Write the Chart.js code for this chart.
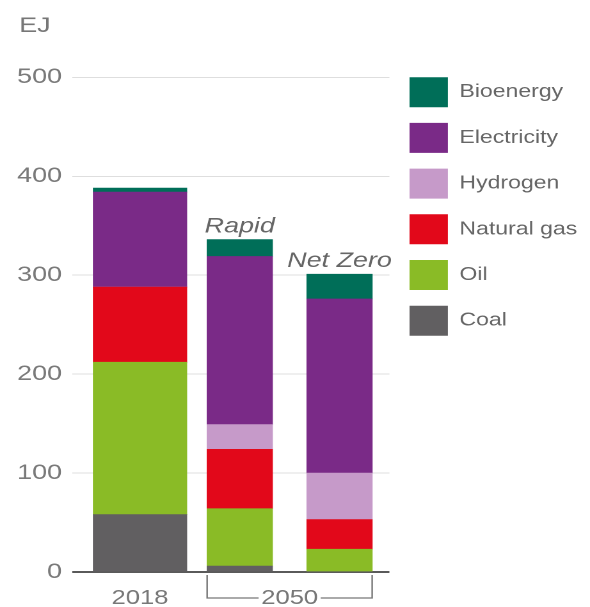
<!DOCTYPE html>
<html>
<head>
<meta charset="utf-8">
<script src="https://cdn.jsdelivr.net/npm/chart.js@4.4.0/dist/chart.umd.min.js"></script>
<style>
  html, body { margin: 0; padding: 0; background: #fff; }
</style>
</head>
<body>
<!-- the reference is drawn wide: canvas is laid out at 461px and stretched to 590px -->
<canvas id="energyChart" width="461" height="607" style="display:block;width:590px;height:607px"></canvas>
<script>
const categories = ["2018", "Rapid", "Net Zero"];
const scenarioLabels = ["", "Rapid", "Net Zero"];
const periodLabels = ["2018", "2050"];
const unitLabel = "EJ";
const yTicks = [0, 100, 200, 300, 400, 500];

// bottom to top of each stack
const sources = ["Coal", "Oil", "Natural gas", "Hydrogen", "Electricity", "Bioenergy"];
const coal = [58, 6, 0];
const oil = [154, 58, 23];
const naturalGas = [76, 60, 30];
const hydrogen = [0, 25, 47];
const electricity = [96, 170, 176];
const bioenergy = [4, 17, 25];

const sourceColors = ["#615f61", "#8abb26", "#e2081a", "#c69ac9", "#7a2a87", "#006e58"];
const values = [coal, oil, naturalGas, hydrogen, electricity, bioenergy];

const FONT = "'Liberation Sans', Arial, sans-serif";
Chart.defaults.font.family = FONT;

// 2018 bar is wider than the two 2050 bars, so it gets its own set of datasets
function makeSets(cols, thickness) {
  return sources.map((name, s) => ({
    label: name,
    data: categories.map((c, i) => cols.includes(i) ? values[s][i] : null),
    backgroundColor: sourceColors[s],
    borderWidth: 0,
    barThickness: thickness
  }));
}

const annotations = {
  id: "annotations",
  afterDraw(chart) {
    const { ctx, scales: { x, y } } = chart;
    const sets = chart.data.datasets;
    ctx.save();

    ctx.fillStyle = "#777";
    ctx.font = "21px " + FONT;
    ctx.textAlign = "left";
    ctx.textBaseline = "alphabetic";
    ctx.fillText(unitLabel, 15, 32);

    // scenario names above the stacks
    ctx.font = "italic 21px " + FONT;
    ctx.fillStyle = "#666";
    ctx.textAlign = "center";
    categories.forEach((c, i) => {
      if (!scenarioLabels[i]) return;
      const total = values.reduce((sum, v) => sum + v[i], 0);
      ctx.fillText(scenarioLabels[i], x.getPixelForValue(i), y.getPixelForValue(total) - 7);
    });

    // period labels and the 2050 bracket
    const base = y.getPixelForValue(0);
    ctx.font = "20px " + FONT;
    ctx.fillStyle = "#777";
    ctx.fillText(periodLabels[0], x.getPixelForValue(0), 604);

    const w = sets[sources.length].barThickness;
    const x1 = x.getPixelForValue(1) - w / 2;
    const x2 = x.getPixelForValue(2) + w / 2;
    const mid = (x1 + x2) / 2;
    ctx.fillText(periodLabels[1], mid, 604);
    const half = ctx.measureText(periodLabels[1]).width / 2 + 2;
    ctx.strokeStyle = "#777";
    ctx.lineWidth = 1.2;
    ctx.beginPath();
    ctx.moveTo(x1, base + 3);
    ctx.lineTo(x1, 598);
    ctx.lineTo(mid - half, 598);
    ctx.moveTo(mid + half, 598);
    ctx.lineTo(x2, 598);
    ctx.lineTo(x2, base + 3);
    ctx.stroke();

    ctx.restore();
  }
};

new Chart(document.getElementById("energyChart"), {
  type: "bar",
  data: {
    labels: categories,
    datasets: [...makeSets([0], 73), ...makeSets([1, 2], 51)]
  },
  options: {
    responsive: false,
    devicePixelRatio: 2,
    animation: false,
    events: [],
    layout: { padding: { top: 61.5, left: 5.4, right: 0, bottom: 35 } },
    plugins: {
      tooltip: { enabled: false },
      legend: {
        position: "right",
        align: "start",
        reverse: true,
        maxWidth: 200,
        labels: {
          boxWidth: 30,
          boxHeight: 30,
          padding: 15.7,
          color: "#666",
          font: { size: 18 },
          filter: item => item.datasetIndex < sources.length
        }
      }
    },
    scales: {
      x: { stacked: true, display: false },
      y: {
        stacked: true,
        min: 0,
        max: 516, // a little headroom so the legend lines up with the 500 line
        afterBuildTicks: axis => { axis.ticks = yTicks.map(v => ({ value: v })); },
        ticks: { padding: 8, color: "#7a7a7a", font: { size: 21 } },
        grid: {
          tickLength: 14,
          color: c => c.tick && c.tick.value === 0 ? "#5a5a5a" : "#dedede",
          lineWidth: c => c.tick && c.tick.value === 0 ? 2 : 1
        },
        border: { display: false }
      }
    }
  },
  plugins: [annotations]
});
</script>
</body>
</html>
